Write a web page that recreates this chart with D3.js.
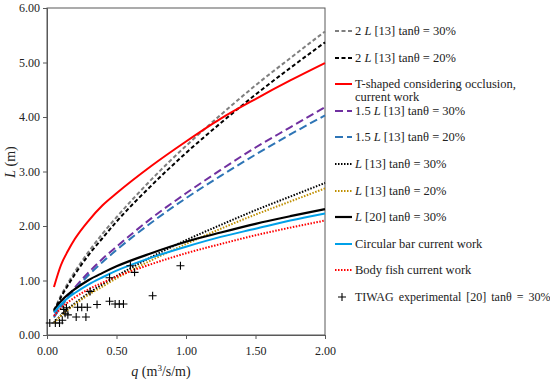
<!DOCTYPE html>
<html lang="en">
<head>
<meta charset="UTF-8">
<title>L vs q</title>
<script src="https://cdn.jsdelivr.net/npm/d3@7/dist/d3.min.js"></script>
<style>
  body { margin: 0; background: #fff; }
  svg text { font-family: "Liberation Serif", "Times New Roman", serif; fill: #222; }
</style>
</head>
<body>
<script>
const qGrid = [0.05, 0.1, 0.15, 0.2, 0.3, 0.4, 0.5, 0.75, 1.0, 1.25, 1.5, 1.75, 2.0];

const L2_30   = [0.45, 0.72, 0.95, 1.16, 1.53, 1.86, 2.16, 2.85, 3.47, 4.04, 4.58, 5.08, 5.57];
const L2_20   = [0.43, 0.69, 0.91, 1.11, 1.47, 1.78, 2.08, 2.74, 3.34, 3.89, 4.41, 4.90, 5.37];
const tShaped = [0.88, 1.28, 1.54, 1.76, 2.10, 2.38, 2.60, 3.10, 3.55, 3.97, 4.33, 4.67, 4.99];
const L15_30  = [0.34, 0.54, 0.71, 0.87, 1.15, 1.40, 1.62, 2.14, 2.60, 3.03, 3.44, 3.81, 4.18];
const L15_20  = [0.32, 0.52, 0.68, 0.83, 1.10, 1.34, 1.56, 2.06, 2.51, 2.92, 3.31, 3.68, 4.03];
const L_30    = [0.23, 0.36, 0.48, 0.58, 0.77, 0.93, 1.08, 1.43, 1.74, 2.02, 2.29, 2.54, 2.79];
const L_20    = [0.22, 0.35, 0.46, 0.56, 0.74, 0.89, 1.04, 1.37, 1.67, 1.95, 2.21, 2.45, 2.69];
const L20_30  = [0.46, 0.62, 0.74, 0.84, 1.01, 1.14, 1.26, 1.50, 1.71, 1.88, 2.04, 2.18, 2.31];
const circBar = [0.41, 0.56, 0.68, 0.77, 0.93, 1.06, 1.18, 1.42, 1.62, 1.80, 1.95, 2.10, 2.23];
const bodyFish= [0.35, 0.49, 0.60, 0.69, 0.84, 0.96, 1.07, 1.30, 1.50, 1.67, 1.83, 1.97, 2.10];

// TIWAG experimental points
const expQ = [0.02, 0.06, 0.09, 0.11, 0.12, 0.13, 0.14, 0.15, 0.21, 0.28, 0.22, 0.25, 0.29,
              0.36, 0.45, 0.49, 0.52, 0.55, 0.31, 0.45, 0.60, 0.63, 0.76, 0.96];
const expL = [0.22, 0.22, 0.22, 0.27, 0.47, 0.40, 0.50, 0.37, 0.33, 0.33, 0.51, 0.51, 0.51,
              0.56, 0.62, 0.57, 0.57, 0.57, 0.80, 1.05, 1.27, 1.15, 0.72, 1.27];

const xTicks = [0, 0.5, 1.0, 1.5, 2.0];
const yTicks = [0, 1, 2, 3, 4, 5, 6];

const series = [
  { name: ["2 L [13] tanθ = 30%"], vals: L2_30, color: "#7f7f7f", dash: "4,2.5", w: 2 },
  { name: ["2 L [13] tanθ = 20%"], vals: L2_20, color: "#000000", dash: "4,2.5", w: 2 },
  { name: ["T-shaped considering occlusion,", "current work"], vals: tShaped, color: "#ff0000", dash: null, w: 2 },
  { name: ["1.5 L [13] tanθ = 30%"], vals: L15_30, color: "#7030a0", dash: "8,4", w: 2 },
  { name: ["1.5 L [13] tanθ = 20%"], vals: L15_20, color: "#2e75b6", dash: "8,4", w: 2 },
  { name: ["L [13] tanθ = 30%"], vals: L_30, color: "#000000", dash: "1.5,1.5", w: 2 },
  { name: ["L  [13] tanθ = 20%"], vals: L_20, color: "#bf8f00", dash: "1.5,1.5", w: 2 },
  { name: ["L [20] tanθ = 30%"], vals: L20_30, color: "#000000", dash: null, w: 2.2 },
  { name: ["Circular bar current work"], vals: circBar, color: "#00a0e8", dash: null, w: 2 },
  { name: ["Body fish current work"], vals: bodyFish, color: "#ff0000", dash: "1.5,1.5", w: 2 }
];

const W = 550, H = 384;
const m = { left: 47, right: 225, top: 8, bottom: 49 };

const svg = d3.select("body").append("svg")
  .attr("width", W).attr("height", H);

const x = d3.scaleLinear().domain([0, 2]).range([m.left, W - m.right]);
const y = d3.scaleLinear().domain([0, 6]).range([H - m.bottom, m.top]);

// frame
svg.append("rect")
  .attr("x", x(0)).attr("y", y(6))
  .attr("width", x(2) - x(0)).attr("height", y(0) - y(6))
  .attr("fill", "none").attr("stroke", "#595959").attr("stroke-width", 1);

const xAxis = svg.append("g")
  .attr("transform", "translate(0," + y(0) + ")")
  .call(d3.axisBottom(x).tickValues(xTicks).tickFormat(d3.format(".2f")).tickSizeOuter(0).tickSize(4));
const yAxis = svg.append("g")
  .attr("transform", "translate(" + x(0) + ",0)")
  .call(d3.axisLeft(y).tickValues(yTicks).tickFormat(d3.format(".2f")).tickSizeOuter(0).tickSize(4));

[xAxis, yAxis].forEach(g => {
  g.select(".domain").attr("stroke", "#595959");
  g.selectAll(".tick line").attr("stroke", "#595959");
  g.selectAll(".tick text")
    .style("font-family", "'Liberation Serif', serif")
    .style("font-size", "12px").attr("fill", "#333");
});
xAxis.selectAll(".tick text").attr("dy", "1.1em");
yAxis.selectAll(".tick text").attr("x", -7);

// axis titles
svg.append("text")
  .attr("x", 161).attr("y", 376)
  .attr("text-anchor", "middle").style("font-size", "14px")
  .html('<tspan font-style="italic">q</tspan> (m<tspan dy="-5" font-size="9px">3</tspan><tspan dy="5">/s/m)</tspan>');

svg.append("text")
  .attr("transform", "translate(15," + 162 + ") rotate(-90)")
  .attr("text-anchor", "middle").style("font-size", "14px")
  .html('<tspan font-style="italic">L</tspan> (m)');

// curves
const line = d3.line()
  .x((d, i) => x(qGrid[i]))
  .y(d => y(d))
  .curve(d3.curveMonotoneX);

const plot = svg.append("g");
series.forEach(s => {
  plot.append("path")
    .attr("d", line(s.vals))
    .attr("fill", "none")
    .attr("stroke", s.color)
    .attr("stroke-width", s.w)
    .attr("stroke-dasharray", s.dash);
});

// experimental crosses
const cs = 4;
plot.selectAll(".pt").data(expQ).enter().append("path")
  .attr("class", "pt")
  .attr("d", (d, i) => {
    const cx = x(d), cy = y(expL[i]);
    return "M" + (cx - cs) + "," + cy + "H" + (cx + cs) + "M" + cx + "," + (cy - cs) + "V" + (cy + cs);
  })
  .attr("stroke", "#000").attr("stroke-width", 1.1);

// legend
const legY = [31, 58, 84, 111, 137, 164, 191, 217, 244, 270];
const fs = 12.5;
const leg = svg.append("g");
series.forEach((s, i) => {
  leg.append("line")
    .attr("x1", 335).attr("x2", 352)
    .attr("y1", legY[i]).attr("y2", legY[i])
    .attr("stroke", s.color).attr("stroke-width", s.w)
    .attr("stroke-dasharray", s.dash);
  const t = leg.append("text")
    .attr("x", 355).attr("y", legY[i] + 4)
    .style("font-size", fs + "px");
  s.name.forEach((n, k) => {
    const parts = n.split("L");
    const ts = t.append("tspan").attr("x", 355).attr("dy", k === 0 ? 0 : 13);
    if (parts.length > 1 && !n.startsWith("T-")) {
      ts.append("tspan").text(parts[0]);
      ts.append("tspan").attr("font-style", "italic").text("L");
      ts.append("tspan").text(parts.slice(1).join("L"));
    } else {
      ts.text(n);
    }
  });
});
leg.append("path")
  .attr("d", "M338,297H346M342,293V301")
  .attr("stroke", "#000").attr("stroke-width", 1.1);
leg.append("text")
  .attr("x", 355).attr("y", 301).style("font-size", "12px")
  .style("word-spacing", "2px")
  .text("TIWAG experimental [20] tanθ = 30%");
</script>
</body>
</html>
